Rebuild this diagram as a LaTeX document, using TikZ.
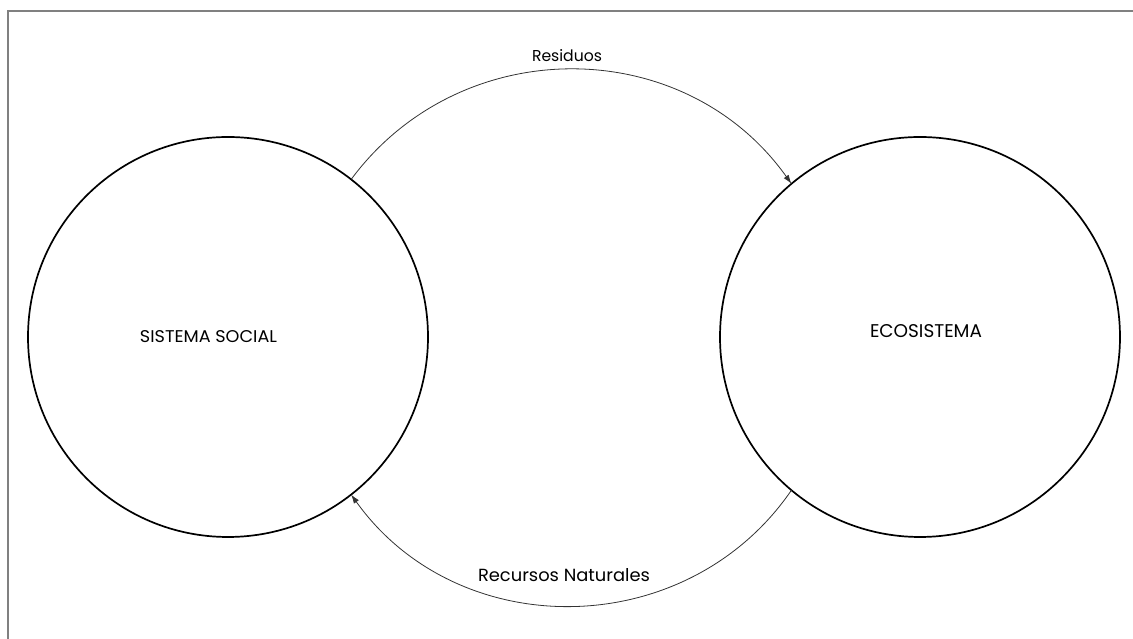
\documentclass[tikz,border=0pt]{standalone}
\usepackage{graphicx}
\usepackage{fontspec}
\setmainfont{Poppins}
\usetikzlibrary{arrows.meta}
\tikzset{
  sysnode/.style={circle, draw=black, line width=1.7pt, minimum size=400pt, inner sep=0pt, outer sep=0pt},
  flow/.style={draw=black!80, line width=0.8pt, -{Latex[length=9pt,width=6pt]}},
  lbl/.style={inner sep=0pt, outer sep=0pt, anchor=base, text=black},
  framestyle/.style={draw=black!50, line width=1.5pt}
}
\begin{document}
\begin{tikzpicture}[x=1pt,y=1pt]
\useasboundingbox (0,0) rectangle (1133,639);
\draw[framestyle] (8,0) -- (8,628) -- (1133,628);
\node[sysnode] (soc) at (228,302) {};
\node[sysnode] (eco) at (920,302) {};
\node[lbl] (tsoc) at (208.5,296) {\resizebox{137pt}{12pt}{SISTEMA SOCIAL}};
\node[lbl] (teco) at (926,301) {\resizebox{112pt}{13pt}{ECOSISTEMA}};
\draw[flow] (soc.52) to[bend left=54, looseness=1.07] (eco.130);
\draw[flow] (eco.230) to[bend left=55, looseness=1.07] (soc.308);
\node[lbl] (tres) at (567,577) {\resizebox{70pt}{12pt}{Residuos}};
\node[lbl] (trec) at (564,57) {\resizebox{172pt}{13pt}{Recursos Naturales}};
\end{tikzpicture}
\end{document}
